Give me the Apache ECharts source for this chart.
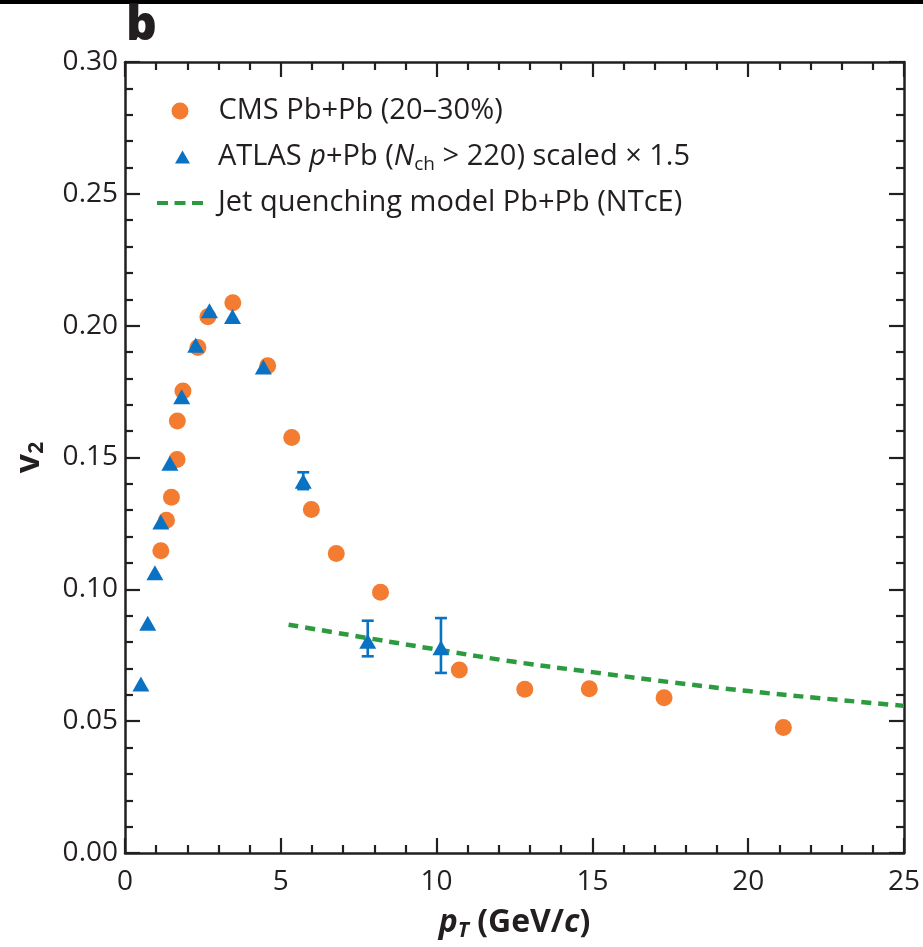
<!DOCTYPE html>
<html>
<head>
<meta charset="utf-8">
<script src="https://cdn.jsdelivr.net/npm/echarts@6/dist/echarts.min.js"></script>
<style>
html,body{margin:0;padding:0;background:#fff;}
#chart{width:923px;height:947px;}
</style>
</head>
<body>
<div id="chart"></div>
<script>
// ---- data ----
const cmsX = [1.15, 1.33, 1.49, 1.67, 1.68, 1.86, 2.34, 2.66, 3.46, 4.58, 5.35, 5.98, 6.78, 8.2, 10.73, 12.83, 14.9, 17.3, 21.13];
const cmsY = [0.1146, 0.1262, 0.1349, 0.1492, 0.1638, 0.1752, 0.1917, 0.2034, 0.2087, 0.1848, 0.1576, 0.1303, 0.1136, 0.0989, 0.0694, 0.0621, 0.0623, 0.0589, 0.0476];
const atlasX = [0.51, 0.73, 0.96, 1.15, 1.44, 1.82, 2.27, 2.71, 3.45, 4.44, 5.72, 7.79, 10.14];
const atlasY = [0.0641, 0.0871, 0.1063, 0.1255, 0.1478, 0.173, 0.1926, 0.2057, 0.2035, 0.1843, 0.141, 0.0803, 0.0778];
const errX = [5.72, 7.79, 10.14];
const errLow = [0.138, 0.0746, 0.0683];
const errHigh = [0.1444, 0.0881, 0.0891];
const modelX = [5.25, 7.8, 10.1, 12.5, 15, 17.5, 20, 22.5, 25];
const modelY = [0.0866, 0.0815, 0.077, 0.0725, 0.0686, 0.0648, 0.0614, 0.0585, 0.0558];
const seriesNames = ['CMS Pb+Pb (20–30%)', 'ATLAS p+Pb (Nch > 220) scaled × 1.5', 'Jet quenching model Pb+Pb (NTcE)'];

const FONT = '"Open Sans", "Noto Sans", sans-serif';
const INK = '#231F20';
const ORANGE = '#F47C30';
const BLUE = '#0A72C2';
const GREEN = '#2C9A3E';

const chart = echarts.init(document.getElementById('chart'), null, {renderer: 'canvas'});

function axisCommon() {
  return {
    axisLine: {show: true, onZero: false, lineStyle: {color: INK, width: 2.5}},
    axisTick: {show: true, inside: true, length: 15, lineStyle: {color: INK, width: 2.2}},
    minorTick: {show: true, splitNumber: 5, length: 8, lineStyle: {color: INK, width: 2.2}},
    splitLine: {show: false},
    minorSplitLine: {show: false}
  };
}

const legendText = {
  color: INK, fontSize: 29, fontFamily: FONT, lineHeight: 34,
  rich: {
    n: {fontSize: 29, fontFamily: FONT, color: INK, lineHeight: 34},
    i: {fontSize: 29, fontFamily: FONT, fontStyle: 'italic', color: INK, lineHeight: 34},
    s: {fontSize: 19, fontFamily: FONT, color: INK, lineHeight: 34, verticalAlign: 'bottom', padding: [13, 0, 0, 0]}
  }
};
function legendFmt(name) {
  if (name === seriesNames[1]) {
    return '{n|ATLAS }{i|p}{n|+Pb (}{i|N}{s|ch}{n| > 220) scaled × 1.5}';
  }
  return '{n|' + name + '}';
}

const option = {
  animation: false,
  backgroundColor: '#fff',
  textStyle: {fontFamily: FONT},
  grid: {left: 125, right: 11, top: 62, bottom: 82, containLabel: false},
  graphic: [
    {type: 'rect', left: 0, top: 0, shape: {width: 923, height: 4}, style: {fill: '#000'}},
    {type: 'text', left: 126, top: 2, style: {text: 'b', font: '800 48px ' + FONT, fill: INK}}
  ],
  legend: [
    {
      data: [seriesNames[0]], icon: 'circle', left: 171.5, top: 94, padding: 0,
      itemWidth: 17, itemHeight: 17,
      textStyle: Object.assign({}, legendText, {padding: [0, 0, 0, 25]}),
      formatter: legendFmt
    },
    {
      data: [seriesNames[1]], icon: 'triangle', left: 175, top: 140, padding: 0,
      itemWidth: 15, itemHeight: 13,
      textStyle: Object.assign({}, legendText, {padding: [0, 0, 0, 23]}),
      formatter: legendFmt
    },
    {
      data: [seriesNames[2]],
      icon: 'path://M0,0h11v4h-11z M17.5,0h11v4h-11z M35,0h11v4h-11z',
      left: 157, top: 186, padding: 0,
      itemWidth: 46, itemHeight: 4,
      textStyle: Object.assign({}, legendText, {padding: [0, 0, 0, 10]}),
      formatter: legendFmt
    }
  ],
  xAxis: [
    Object.assign(axisCommon(), {
      type: 'value', min: 0, max: 25, interval: 5, position: 'bottom',
      axisLabel: {color: INK, fontSize: 28, fontFamily: FONT, margin: 15},
      name: '{bi|p}{sub|T}{b| (GeV/}{bi|c}{b|)}',
      nameLocation: 'middle', nameGap: 51,
      nameTextStyle: {
        rich: {
          bi: {fontSize: 32, fontWeight: 'bold', fontStyle: 'italic', fontFamily: FONT, color: INK, lineHeight: 38},
          b: {fontSize: 32, fontWeight: 'bold', fontFamily: FONT, color: INK, lineHeight: 38},
          sub: {fontSize: 21, fontWeight: 'bold', fontStyle: 'italic', fontFamily: FONT, color: INK, lineHeight: 38, verticalAlign: 'bottom', padding: [15, 0, 0, 0]}
        }
      }
    }),
    Object.assign(axisCommon(), {
      type: 'value', min: 0, max: 25, interval: 5, position: 'top',
      axisLabel: {show: false}
    })
  ],
  yAxis: [
    Object.assign(axisCommon(), {
      type: 'value', min: 0, max: 0.3, interval: 0.05, position: 'left',
      axisLabel: {color: INK, fontSize: 28, fontFamily: FONT, margin: 7, formatter: v => v.toFixed(2)},
      name: '{b|v}{sub|2}',
      nameLocation: 'middle', nameGap: 77,
      nameTextStyle: {
        rich: {
          b: {fontSize: 34, fontWeight: 'bold', fontFamily: FONT, color: INK, lineHeight: 38},
          sub: {fontSize: 21, fontWeight: 'bold', fontFamily: FONT, color: INK, lineHeight: 38, verticalAlign: 'bottom', padding: [14, 0, 0, 0]}
        }
      }
    }),
    Object.assign(axisCommon(), {
      type: 'value', min: 0, max: 0.3, interval: 0.05, position: 'right',
      axisLabel: {show: false}
    })
  ],
  series: [
    {
      name: seriesNames[2], type: 'line', smooth: true, symbol: 'none',
      data: modelX.map((x, i) => [x, modelY[i]]),
      lineStyle: {color: GREEN, width: 4.5, type: [10, 7]},
      itemStyle: {color: GREEN},
      z: 2
    },
    {
      name: seriesNames[0], type: 'scatter', symbol: 'circle', symbolSize: 17,
      data: cmsX.map((x, i) => [x, cmsY[i]]),
      itemStyle: {color: ORANGE, opacity: 1},
      z: 3
    },
    {
      name: 'err', type: 'custom',
      data: errX.map((x, i) => [x, errLow[i], errHigh[i]]),
      renderItem: function (params, api) {
        const x = api.value(0);
        const lo = api.coord([x, api.value(1)]);
        const hi = api.coord([x, api.value(2)]);
        const cap = 6;
        const st = {stroke: BLUE, lineWidth: 2.6};
        return {
          type: 'group',
          children: [
            {type: 'line', shape: {x1: lo[0], y1: lo[1], x2: hi[0], y2: hi[1]}, style: st},
            {type: 'line', shape: {x1: lo[0] - cap, y1: lo[1], x2: lo[0] + cap, y2: lo[1]}, style: st},
            {type: 'line', shape: {x1: hi[0] - cap, y1: hi[1], x2: hi[0] + cap, y2: hi[1]}, style: st}
          ]
        };
      },
      z: 4
    },
    {
      name: seriesNames[1], type: 'scatter', symbol: 'triangle', symbolSize: [17, 15],
      data: atlasX.map((x, i) => [x, atlasY[i]]),
      itemStyle: {color: BLUE, opacity: 1},
      z: 5
    }
  ]
};
chart.setOption(option);
</script>
</body>
</html>
